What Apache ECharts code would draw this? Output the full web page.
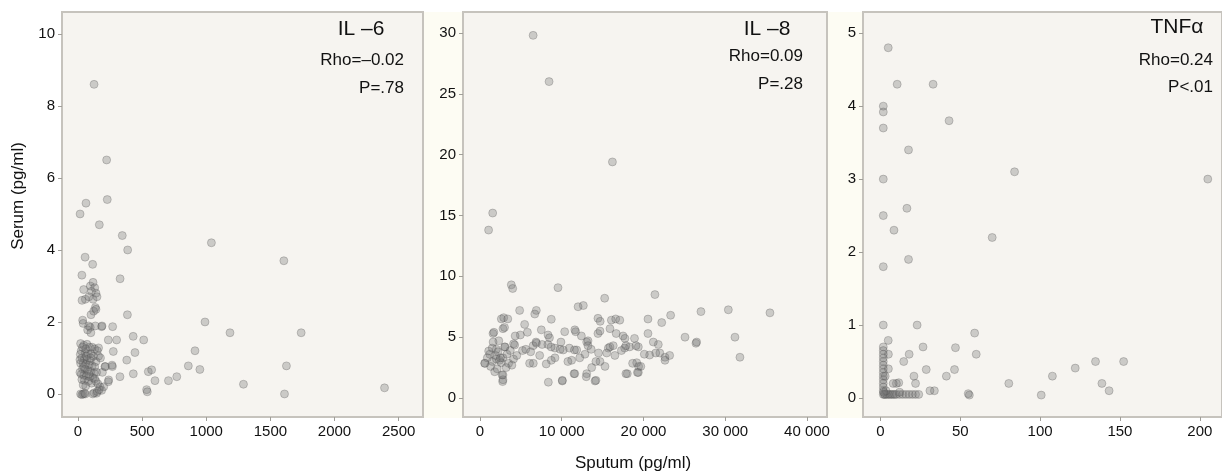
<!DOCTYPE html>
<html>
<head>
<meta charset="utf-8">
<script src="https://cdn.jsdelivr.net/npm/echarts@6/dist/echarts.min.js"></script>
<style>
html,body{margin:0;padding:0;background:#fff;}
#chart{width:1222px;height:472px;}
</style>
</head>
<body>
<div id="chart"></div>
<script>
// ---- Data (sputum x, serum y) ----
var il6Points = [
  [62,5.3],[16,5.0],[125,8.6],[223,6.5],[228,5.4],[166,4.7],[345,4.4],[387,4.0],[1040,4.2],[1605,3.7],
  [55,3.8],[114,3.6],[30,3.3],[328,3.2],[385,2.2],[990,2.0],[1185,1.7],[1740,1.7],[912,1.2],[430,1.6],
  [512,1.5],[860,0.78],[950,0.68],[1625,0.78],[1290,0.27],[1610,0.0],[2390,0.17],[535,0.12],[540,0.06],
  [600,0.37],[705,0.37],[770,0.48],[548,0.62],[574,0.67],[431,0.56],[327,0.48],[444,1.15],[380,0.94],
  [275,1.18],[236,1.5],[301,1.5],[184,1.87],[270,1.87],[210,0.76],[268,0.76],[236,0.34],[171,0.2],
  [145,0.02],[184,0.1],
  [96,3.0],[117,3.1],[130,2.95],[44,2.9],[105,2.85],[140,2.8],[57,2.63],[117,2.63],[148,2.7],[31,2.6],
  [85,2.7],[135,2.4],[122,2.3],[140,2.35],[101,2.2],[36,2.05],[40,1.96],[83,1.89],[95,1.85],[135,1.89],
  [187,1.89],[75,1.78],[100,1.7],
  [20,1.4],[45,1.35],[70,1.38],[90,1.3],[110,1.3],[130,1.25],[150,1.2],[25,1.2],[55,1.15],[80,1.1],
  [100,1.12],[120,1.05],[160,1.05],[30,1.0],[50,0.98],[70,0.95],[95,0.92],[140,0.9],[20,0.85],[40,0.85],
  [60,0.82],[85,0.8],[110,0.78],[130,0.75],[35,0.7],[55,0.68],[75,0.65],[100,0.62],[125,0.58],[145,0.6],
  [25,0.55],[45,0.52],[65,0.5],[90,0.48],[115,0.45],[30,0.4],[50,0.38],[80,0.35],[105,0.3],[130,0.42],
  [40,0.25],[60,0.22],[140,0.35],[155,0.28],[20,0.0],[30,-0.02],[40,0.0],[50,0.02],[57,0.0],[115,0.0],
  [125,0.03],[150,0.07],[165,0.12],[200,0.2],[239,0.39],[213,0.76],[265,0.8],[160,1.28],[175,1.0],
  [190,0.6],[60,1.25],[15,0.6],[15,0.95],[18,1.1],[35,1.3],[65,1.05],[85,0.55],[45,0.75],[100,1.0]
];
var il8Points = [
  [6500,29.8],[8450,26.0],[16200,19.4],[1050,13.8],[1550,15.2],
  [3830,9.3],[4000,9.0],[9540,9.07],[21400,8.5],[15250,8.2],[12000,7.5],[12640,7.6],[4850,7.2],[6890,7.2],
  [6700,6.9],[27030,7.1],[30380,7.25],[35470,7.0],[23320,6.8],[2610,6.5],[2900,6.6],[3400,6.5],[8720,6.47],
  [14430,6.55],[14700,6.3],[16070,6.4],[16600,6.5],[17100,6.4],[20550,6.49],[22230,6.2],[5460,6.05],
  [2810,5.7],[1590,5.3],[1700,5.4],[4930,5.18],[8320,5.18],[8500,4.95],[10360,5.45],[11700,5.45],[11600,5.6],
  [14430,5.3],[14680,5.5],[16660,5.3],[17500,5.1],[17730,4.9],[20550,5.3],[25080,5.0],[31190,5.0],
  [26420,4.5],[26500,4.6],[6850,4.6],[4100,4.45],[3060,4.2],[13050,4.6],[13210,4.7],[10930,4.1],
  [11830,3.95],[9170,4.1],[9170,3.3],[15700,4.1],[15900,4.2],[17700,4.1],[18300,4.2],[19370,4.2],
  [21810,4.4],[22000,3.7],[22630,3.35],[22630,3.1],[31800,3.35],[16500,3.5],[19170,2.9],[19400,2.6],
  [19370,2.1],[18020,2.0],[14680,3.0],[15290,2.6],[13660,2.5],[13050,2.0],[14070,1.4],[11500,2.0],
  [10070,1.4],[8360,1.3],[11210,3.1],[6520,2.85],[12840,3.6],[2770,1.35],[2700,1.9],[610,2.85],
  [1060,3.86],[2000,4.0],[3020,4.2],[4240,4.36],[6500,4.3],[6900,4.5],[8300,4.4],[8700,4.2],[10180,3.95],
  [11550,3.95],[13210,4.3],[17850,4.3],[19080,4.3],[20750,3.53],[21500,3.7],[570,2.85],[1500,3.0],
  [2000,3.2],[2400,3.1],[2800,3.3],[2600,2.9],[3500,2.85],[6070,2.85],[8720,3.1],[10750,3.0],[14180,3.0],
  [18670,2.85],[1800,2.16],[2810,1.9],[2810,1.5],[10070,1.45],[11590,2.0],[13000,1.75],[14180,1.45],
  [17850,2.0],[19260,2.1],[19670,2.6],[1200,3.6],[1500,4.1],[1900,3.5],[2200,3.8],[2500,3.3],[3300,3.6],
  [3700,3.9],[4100,3.2],[900,3.3],[1300,2.6],[2100,2.4],[3200,2.5],[3900,2.7],[4500,3.5],[5200,3.9],
  [5600,4.0],[6200,3.8],[7300,3.5],[7600,4.4],[8100,2.8],[9800,4.0],[12200,3.3],[13600,4.0],[14500,3.7],
  [15500,3.7],[16300,4.3],[17300,3.9],[20100,3.6],[21200,4.6],[2300,4.7],[1600,4.6],[3000,5.8],[4300,5.1],
  [5800,5.4],[7500,5.6],[9900,4.6],[12400,5.1],[15900,5.7],[18900,4.9],[23200,3.5]
];
var tnfPoints = [
  [4.9,4.8],[10.5,4.3],[33,4.3],[1.8,4.0],[1.8,3.92],[1.8,3.7],[43,3.8],[17.6,3.4],[84,3.1],[1.8,3.0],
  [205,3.0],[16.6,2.6],[1.8,2.5],[8.5,2.3],[70,2.2],[17.6,1.9],[1.8,1.8],[1.8,1.0],[23,1.0],[59,0.89],
  [4.9,0.79],[26.7,0.7],[47,0.69],[60,0.6],[18,0.6],[5,0.6],[14.6,0.5],[28.7,0.39],[46.4,0.39],[41.3,0.3],
  [21,0.3],[11.5,0.21],[10,0.2],[33.8,0.1],[31,0.1],[55.7,0.04],[55,0.06],[80.4,0.2],[100.7,0.04],
  [107.7,0.3],[122,0.41],[134.7,0.5],[152.3,0.5],[138.7,0.2],[143.2,0.1],
  [1.8,0.7],[1.8,0.65],[1.8,0.6],[1.8,0.55],[1.8,0.5],[1.8,0.45],[1.8,0.4],[1.8,0.35],[1.8,0.3],
  [1.8,0.25],[1.8,0.2],[1.8,0.15],[1.8,0.1],[1.8,0.05],[2.5,0.05],
  [3,0.05],[4,0.05],[5,0.05],[6,0.05],[7,0.05],[8,0.05],[9,0.05],[10,0.05],[12,0.05],[14,0.05],
  [16,0.05],[18,0.05],[20,0.05],[22,0.05],[24,0.05],
  [5,0.4],[3,0.3],[8,0.2],[3.5,0.1],[12,0.08],[2,0.08],[22,0.2]
];
var il6Ticks = [0,500,1000,1500,2000,2500];
var il6YTicks = [0,2,4,6,8,10];
var il8Ticks = [0,10000,20000,30000,40000];
var il8YTicks = [0,5,10,15,20,25,30];
var tnfTicks = [0,50,100,150,200];
var tnfYTicks = [0,1,2,3,4,5];
var panelTitles = ['IL \u20136','IL \u20138','TNF\u03b1'];
var panelRho = ['Rho=\u20130.02','Rho=0.09','Rho=0.24'];
var panelP = ['P=.78','P=.28','P<.01'];

var FONT = '"Liberation Sans", Arial, Helvetica, sans-serif';
function fmtSpace(v){
  var s = String(Math.round(v));
  if (s.length > 4) s = s.replace(/\B(?=(\d{3})+(?!\d))/g, ' ');
  return s;
}

var grids = [
  {left:62, top:12, width:361, height:405},
  {left:463, top:12, width:364, height:405},
  {left:863, top:12, width:370, height:405}
];
grids.forEach(function(g){
  g.show = true; g.backgroundColor = '#f6f4f0'; g.borderColor = '#c6c3bd'; g.borderWidth = 2;
});

function axisFor(kind, idx, min, max, ticks){
  var a = {
    type:'value', gridIndex:idx, min:min, max:max,
    splitLine:{show:false}, axisLine:{show:false, onZero:false},
    axisTick:{show:true, inside:false, length:4, lineStyle:{color:'#a09e99', width:1}, customValues:ticks},
    axisLabel:{show:true, customValues:ticks, margin:7, color:'#111', fontSize:15, fontFamily:FONT,
      showMinLabel:true, showMaxLabel:true}
  };
  if (kind === 'x') { a.position = 'bottom'; a.axisLabel.formatter = fmtSpace; }
  else { a.position = 'left'; }
  return a;
}

var markerStyle = {color:'rgba(118,118,118,0.42)', borderColor:'rgba(70,70,70,0.32)', borderWidth:1};
function scatter(idx, data){
  return {type:'scatter', xAxisIndex:idx, yAxisIndex:idx, data:data, symbol:'circle', symbolSize:8,
    itemStyle:markerStyle, silent:true, animation:false};
}

var titleCenters = [361, 767, 1177];
var statRights = [404, 803, 1213];
var titleY = [29, 29, 27];
var rhoY = [60, 56, 60];
var pY = [88, 84, 87];
var graphics = [
  {type:'rect', z:-5, shape:{x:424, y:12, width:38, height:406}, style:{fill:'#fdfcf3'}},
  {type:'rect', z:-5, shape:{x:828, y:12, width:34, height:406}, style:{fill:'#fdfcf3'}},
  {type:'text', x:18, y:196, rotation:Math.PI/2, style:{text:'Serum (pg/ml)', fontSize:17, fontFamily:FONT, fill:'#111', align:'center', verticalAlign:'middle'}},
  {type:'text', x:633, y:463, style:{text:'Sputum (pg/ml)', fontSize:17, fontFamily:FONT, fill:'#111', align:'center', verticalAlign:'middle'}}
];
for (var i=0;i<3;i++){
  graphics.push({type:'text', x:titleCenters[i], y:titleY[i], z:10, style:{text:panelTitles[i], fontSize:21, fontFamily:FONT, fill:'#111', align:'center', verticalAlign:'middle'}});
  graphics.push({type:'text', x:statRights[i], y:rhoY[i], z:10, style:{text:panelRho[i], fontSize:17, fontFamily:FONT, fill:'#111', align:'right', verticalAlign:'middle'}});
  graphics.push({type:'text', x:statRights[i], y:pY[i], z:10, style:{text:panelP[i], fontSize:17, fontFamily:FONT, fill:'#111', align:'right', verticalAlign:'middle'}});
}

var chart = echarts.init(document.getElementById('chart'), null, {renderer:'canvas'});
chart.setOption({
  animation:false,
  backgroundColor:'#ffffff',
  grid: grids,
  xAxis: [
    axisFor('x', 0, -125, 2690, il6Ticks),
    axisFor('x', 1, -2080, 42450, il8Ticks),
    axisFor('x', 2, -10.9, 213.9, tnfTicks)
  ],
  yAxis: [
    axisFor('y', 0, -0.64, 10.61, il6YTicks),
    axisFor('y', 1, -1.56, 31.72, il8YTicks),
    axisFor('y', 2, -0.26, 5.29, tnfYTicks)
  ],
  series: [scatter(0, il6Points), scatter(1, il8Points), scatter(2, tnfPoints)],
  graphic: graphics
});
</script>
</body>
</html>
